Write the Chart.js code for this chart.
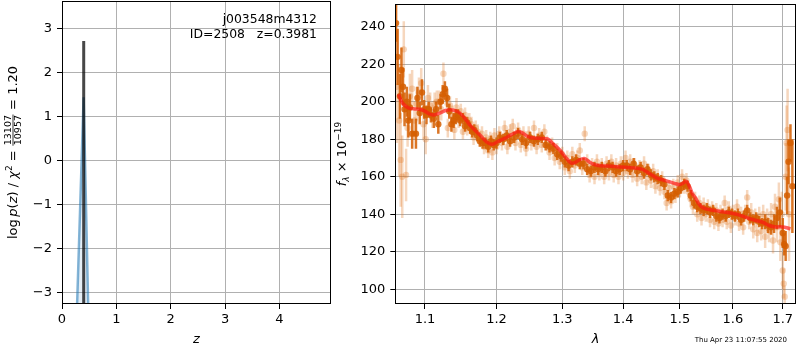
<!DOCTYPE html>
<html><head><meta charset="utf-8">
<script src="https://cdn.jsdelivr.net/npm/chart.js@4.4.1/dist/chart.umd.min.js"></script>
<style>
html,body{margin:0;padding:0;background:#fff;}
body{width:800px;height:350px;position:relative;overflow:hidden;}
#w1{position:absolute;left:0;top:0;width:334px;height:350px;}
#w2{position:absolute;left:328px;top:0;width:472px;height:350px;}
</style></head><body>
<div id="w1"><canvas id="c1"></canvas></div>
<div id="w2"><canvas id="c2"></canvas></div>
<script>
// ---------- left panel data ----------
const zTicks = [0, 1, 2, 3, 4];
const logpTicks = [-3, -2, -1, 0, 1, 2, 3];
const chi2Z = [0.3955, 0.3981, 0.4007];
const chi2LogP = [-6, 2.72, -6];
const pzZ = [0.25, 0.398, 0.50];
const pzLogP = [-4.37, 1.44, -4.34];
const objName = "j003548m4312";
const objInfo = "ID=2508   z=0.3981";

// ---------- right panel data ----------
const lamTicks = [1.1, 1.2, 1.3, 1.4, 1.5, 1.6, 1.7];
const fluxTicks = [100, 120, 140, 160, 180, 200, 220, 240];

const lamModel = [1.065,1.070,1.075,1.080,1.086,1.093,1.100,1.106,1.112,1.120,1.129,1.138,1.146,1.154,1.161,1.170,1.178,1.186,1.194,1.202,1.212,1.222,1.232,1.238,1.244,1.252,1.264,1.277,1.286,1.296,1.305,1.314,1.320,1.326,1.335,1.345,1.352,1.362,1.380,1.397,1.415,1.432,1.444,1.452,1.461,1.470,1.479,1.490,1.499,1.505,1.512,1.518,1.523,1.528,1.534,1.540,1.550,1.559,1.575,1.593,1.610,1.627,1.644,1.660,1.672,1.685,1.693,1.700,1.708,1.716];
const fluxModel = [204,199.5,197.5,196.5,196.2,196.0,195.0,193.5,193.0,194.0,195.5,195.6,194.5,191.5,188.0,184.5,181.5,178.5,177.3,178.8,180.5,182.5,184.2,183.5,182.0,180.8,180.5,180.2,177.5,174.3,170.5,167.3,167.6,168.8,169.8,167.6,166.5,165.9,165.6,165.2,164.8,164.1,162.0,160.5,159.0,158.3,157.5,156.5,155.8,156.5,157.6,154.5,151.0,149.0,146.0,144.0,142.7,142.3,141.5,140.8,139.8,138.2,136.8,135.6,134.0,133.2,133.3,133.2,132.8,132.2];

const lamDark = [1.062,1.064,1.067,1.069,1.071,1.073,1.076,1.078,1.080,1.083,1.088,1.090,1.093,1.096,1.099,1.102,1.105,1.108,1.112,1.115,1.118,1.121,1.124,1.127,1.130,1.133,1.136,1.139,1.142,1.145,1.148,1.152,1.155,1.158,1.162,1.165,1.168,1.172,1.176,1.180,1.184,1.188,1.192,1.196,1.200,1.205,1.210,1.215,1.220,1.226,1.232,1.238,1.244,1.250,1.256,1.262,1.268,1.274,1.280,1.286,1.292,1.298,1.304,1.310,1.316,1.322,1.328,1.334,1.340,1.346,1.352,1.358,1.364,1.370,1.376,1.382,1.388,1.394,1.400,1.406,1.412,1.418,1.424,1.430,1.436,1.442,1.448,1.454,1.460,1.466,1.472,1.478,1.484,1.490,1.496,1.502,1.508,1.514,1.520,1.526,1.532,1.538,1.544,1.550,1.556,1.562,1.568,1.574,1.580,1.586,1.592,1.598,1.604,1.610,1.616,1.622,1.628,1.634,1.640,1.646,1.652,1.658,1.664,1.670,1.676,1.682,1.688,1.694,1.700,1.703,1.706,1.709,1.712,1.716,1.720];
const fluxDark = [242,224,203,217,208,196,200,190,197,183,183,202,194,205,196,193,196,193,191,196,188,200,204,207,202,195,188,190,192,193,190,191,187,189,186,184,185,182,179,178,178,176,179,177,178,181,180,182,179,181,183,180,178,181,179,180,181,177,176,175,172,171,168,166,168,169,167,167,164,163,165,164,165,163,166,165,163,164,166,166,164,167,163,165,162,164,161,160,159,158,156,150,149,151,152,154,156,155,150,146,144,143,142,143,141,142,139,138,140,139,141,140,139,140,137,139,142,138,137,138,136,135,136,134,133,135,138,141,130,124,123,150,168,178,155];
const errDark = [10,15,12,12,10,9,8,9,7,8,8,6,6,7,5,5,4,4,5,4,5,4,5,4,5,4,4,4,4,3,3,3,3,3,3,3,3,3,3,3,3,3,3,3,3,3,3,3,3,3,3,3,3,3,3,3,3,3,3,3,3,3,3,3,3,3,3,3,3,3,3,3,3,3,3,3,3,3,3,3,3,3,3,3,3,3,3,3,3,3,3,3,3,3,3,3,3,3,3,3,3,3,3,3,3,3,3,3,3,3,3,3,3,3,3,3,3,3,3,3,3,3,4,4,4,5,6,8,8,6,8,10,12,10,25];

const lamLight = [1.063,1.066,1.068,1.070,1.072,1.075,1.077,1.080,1.083,1.086,1.089,1.092,1.095,1.098,1.101,1.104,1.107,1.110,1.113,1.116,1.119,1.122,1.125,1.128,1.131,1.134,1.137,1.140,1.143,1.146,1.149,1.152,1.155,1.158,1.161,1.164,1.167,1.170,1.173,1.176,1.179,1.182,1.185,1.188,1.191,1.194,1.197,1.200,1.204,1.208,1.212,1.216,1.220,1.224,1.228,1.232,1.236,1.240,1.244,1.248,1.252,1.256,1.260,1.264,1.268,1.272,1.276,1.280,1.284,1.288,1.292,1.296,1.300,1.304,1.308,1.312,1.316,1.320,1.324,1.328,1.332,1.336,1.340,1.344,1.348,1.352,1.356,1.360,1.364,1.368,1.372,1.376,1.380,1.384,1.388,1.392,1.396,1.400,1.404,1.408,1.412,1.416,1.420,1.424,1.428,1.432,1.436,1.440,1.444,1.448,1.452,1.456,1.460,1.464,1.468,1.472,1.476,1.480,1.484,1.488,1.492,1.496,1.500,1.504,1.508,1.512,1.516,1.520,1.524,1.528,1.532,1.536,1.540,1.544,1.548,1.552,1.556,1.560,1.564,1.568,1.572,1.576,1.580,1.584,1.588,1.592,1.596,1.600,1.604,1.608,1.612,1.616,1.620,1.624,1.628,1.632,1.636,1.640,1.644,1.648,1.652,1.656,1.660,1.664,1.668,1.672,1.676,1.680,1.684,1.688,1.692,1.695,1.698,1.700,1.702,1.704,1.706,1.708,1.710,1.713];
const fluxLight = [208,190,169,160,228,161,186,203,207,190,199,205,210,188,180,202,198,192,199,200,200,196,215,203,186,198,193,185,197,191,195,184,193,186,190,188,181,186,184,180,183,176,181,174,180,173,182,176,183,178,186,176,184,187,178,185,177,183,175,183,178,186,176,182,177,184,178,173,177,170,174,168,172,165,170,163,172,166,170,174,165,183,168,161,166,160,168,162,166,160,167,162,168,161,166,160,167,162,170,163,168,161,166,159,165,160,167,157,163,158,163,155,160,154,159,152,146,154,147,155,150,157,153,160,155,158,152,148,144,148,140,146,138,145,140,144,137,143,136,142,135,141,137,146,136,143,134,141,138,144,135,140,133,141,149,136,141,132,138,130,139,131,140,128,137,131,140,126,144,133,148,125,140,110,103,96,160,178,185,140];
const errLight = [30,30,25,22,15,14,10,12,10,10,9,8,8,8,8,7,7,6,6,6,6,6,6,5,5,5,5,5,5,5,4,4,4,4,4,4,4,4,4,4,4,4,4,4,4,4,4,4,4,4,4,4,4,4,4,4,4,4,4,4,4,4,4,4,4,4,4,4,4,4,4,4,4,4,4,4,4,4,4,4,4,4,4,4,4,4,4,4,4,4,4,4,4,4,4,4,4,4,4,4,4,4,4,4,4,4,4,4,4,4,4,4,4,4,4,4,4,4,4,4,4,4,4,4,4,4,4,4,4,4,4,4,4,4,4,4,4,4,4,4,4,4,4,4,4,4,4,4,4,4,4,4,4,4,4,4,5,5,5,5,5,5,5,6,6,6,6,7,7,8,9,10,12,10,8,6,18,20,22,25];

const timeStamp = "Thu Apr 23 11:07:55 2020";

// ---------- helpers ----------
const FAM = '"DejaVu Sans"';
const fmtMinus = v => (v < 0 ? '\u2212' + Math.abs(v) : String(v));
const pts = (xs, ys) => xs.map((x, i) => ({x: x, y: ys[i]}));

function drawPieces(ctx, pieces, cx, cy, rot) {
  ctx.save();
  ctx.translate(cx, cy);
  ctx.rotate(rot);
  ctx.fillStyle = '#000';
  ctx.textBaseline = 'alphabetic';
  ctx.textAlign = 'left';
  let total = 0;
  pieces.forEach(p => {
    if (p.measure) p.w = p.measure(ctx);
    else { ctx.font = p.font; p.w = ctx.measureText(p.t).width; }
    total += p.w;
  });
  let x = -total / 2;
  pieces.forEach(p => {
    if (p.draw) p.draw(ctx, x);
    else { ctx.font = p.font; ctx.fillText(p.t, x, p.dy || 0); }
    x += p.w;
  });
  ctx.restore();
}

function fraction(num, den, font, axis) {
  let nw = 0, dw = 0;
  return {
    measure(ctx) { ctx.font = font; nw = ctx.measureText(num).width; dw = ctx.measureText(den).width; return Math.max(nw, dw) + 2; },
    draw(ctx, x) {
      const w = Math.max(nw, dw) + 2;
      ctx.font = font;
      ctx.fillText(num, x + (w - nw) / 2, axis - 1.6);
      ctx.fillText(den, x + (w - dw) / 2, axis + 8.2);
      ctx.fillRect(x + 0.5, axis - 0.4, w - 1, 0.8);
    }
  };
}

const extras = {};
const framePlugin = {
  id: 'frame',
  afterDraw(chart) {
    const ctx = chart.ctx, a = chart.chartArea;
    ctx.save();
    ctx.strokeStyle = '#000';
    ctx.lineWidth = 1;
    ctx.strokeRect(Math.round(a.left) + 0.5, Math.round(a.top) + 0.5, Math.round(a.right - a.left) - 1, Math.round(a.bottom - a.top) - 1);
    ctx.restore();
    const fn = extras[chart.canvas.id];
    if (fn) fn(chart);
  }
};

const errPlugin = {
  id: 'errbars',
  beforeDatasetDraw(chart, args) {
    const ds = chart.data.datasets[args.index];
    if (!ds.errs) return;
    const ctx = chart.ctx, a = chart.chartArea, x = chart.scales.x, y = chart.scales.y;
    ctx.save();
    ctx.beginPath();
    ctx.rect(a.left, a.top, a.right - a.left, a.bottom - a.top);
    ctx.clip();
    ctx.strokeStyle = ds.errColor;
    ctx.lineWidth = ds.errWidth;
    ds.data.forEach((p, i) => {
      const px = x.getPixelForValue(p.x);
      ctx.beginPath();
      ctx.moveTo(px, y.getPixelForValue(p.y - ds.errs[i]));
      ctx.lineTo(px, y.getPixelForValue(p.y + ds.errs[i]));
      ctx.stroke();
    });
    ctx.restore();
  }
};

Chart.defaults.font.family = FAM;
Chart.defaults.font.size = 13;
Chart.defaults.color = '#000';

function axisCommon(ticks, fmt, isX, fitSize) {
  return {
    afterBuildTicks: s => { s.ticks = ticks.map(v => ({value: v})); },
    afterFit: s => {
      if (isX) { s.height = fitSize; s.paddingLeft = 0; s.paddingRight = 0; }
      else { s.width = fitSize; s.paddingTop = 0; s.paddingBottom = 0; }
    },
    ticks: {callback: fmt, padding: isX ? 3 : 5, maxRotation: 0, autoSkip: false, font: {size: 13, family: FAM}, color: '#000'},
    grid: {color: '#b0b0b0', lineWidth: 1, tickColor: '#000', tickLength: 5, drawTicks: true},
    border: {display: false}
  };
}

// ---------- left chart ----------
extras.c1 = function (chart) {
  const ctx = chart.ctx, a = chart.chartArea;
  ctx.save();
  ctx.fillStyle = '#000';
  ctx.font = '12.4px ' + FAM;
  ctx.textAlign = 'right';
  ctx.textBaseline = 'middle';
  ctx.fillText(objName, 317, 20);
  ctx.fillText(objInfo, 317, 35);
  ctx.textAlign = 'center';
  ctx.font = 'italic 13px ' + FAM;
  ctx.textBaseline = 'alphabetic';
  ctx.fillText('z', (a.left + a.right) / 2, 343);
  ctx.restore();
  const N = '13px ' + FAM, I = 'italic 13px ' + FAM;
  drawPieces(ctx, [
    {t: 'log', font: N}, {t: '\u2009', font: N}, {t: 'p', font: I}, {t: '(', font: N}, {t: 'z', font: I}, {t: ')', font: N},
    {t: ' / ', font: N}, {t: '\u03c7', font: I}, {t: '2', font: '9px ' + FAM, dy: -5.5},
    {t: ' = ', font: N}, fraction('13107', '10957', '9.5px ' + FAM, -4), {t: ' = 1.20', font: N}
  ], 17, (a.top + a.bottom) / 2, -Math.PI / 2);
};

new Chart(document.getElementById('c1'), {
  type: 'line',
  data: {
    datasets: [
      {data: pts(chi2Z, chi2LogP), borderColor: 'rgba(0,0,0,0.72)', borderWidth: 3, pointRadius: 0, fill: false, tension: 0, order: 0},
      {data: pts(pzZ, pzLogP), borderColor: 'rgba(31,119,180,0.55)', borderWidth: 2.5, pointRadius: 0, fill: 'start', backgroundColor: 'rgba(31,119,180,0.12)', tension: 0, order: 1}
    ]
  },
  options: {
    responsive: true, maintainAspectRatio: false, animation: false, devicePixelRatio: 1,
    layout: {padding: {left: 0, right: 3, top: 1, bottom: 0}},
    scales: {
      x: Object.assign({type: 'linear', min: 0, max: 4.95}, axisCommon(zTicks, v => fmtMinus(v), true, 46)),
      y: Object.assign({type: 'linear', min: -3.27, max: 3.63}, axisCommon(logpTicks, v => fmtMinus(v), false, 62))
    },
    plugins: {legend: {display: false}, tooltip: {enabled: false}}
  },
  plugins: [framePlugin]
});

// ---------- right chart ----------
const darkCol = 'rgba(213,94,0,0.85)';
const lightCol = 'rgba(224,110,20,0.28)';

extras.c2 = function (chart) {
  const ctx = chart.ctx, a = chart.chartArea;
  ctx.save();
  ctx.fillStyle = '#000';
  ctx.font = 'italic 13px ' + FAM;
  ctx.textAlign = 'center';
  ctx.textBaseline = 'alphabetic';
  ctx.fillText('\u03bb', (a.left + a.right) / 2, 343);
  ctx.font = '7px ' + FAM;
  ctx.textAlign = 'right';
  ctx.fillText(timeStamp, 787 - 328, 342);
  ctx.restore();
  const N = '13px ' + FAM, I = 'italic 13px ' + FAM;
  drawPieces(ctx, [
    {t: 'f', font: I}, {t: '\u03bb', font: 'italic 9px ' + FAM, dy: 3}, {t: ' \u00d7 10', font: N}, {t: '\u221219', font: '9px ' + FAM, dy: -5.5}
  ], 18, (a.top + a.bottom) / 2, -Math.PI / 2);
};

new Chart(document.getElementById('c2'), {
  type: 'scatter',
  data: {
    datasets: [
      {type: 'line', data: pts(lamModel, fluxModel), borderColor: 'rgba(255,20,20,0.68)', borderWidth: 3.5, pointRadius: 0, fill: false, tension: 0.3, order: 0},
      {data: pts(lamDark, fluxDark), errs: errDark, errColor: darkCol, errWidth: 2.5, backgroundColor: darkCol, borderWidth: 0, pointRadius: 3.2, order: 1},
      {data: pts(lamLight, fluxLight), errs: errLight, errColor: lightCol, errWidth: 2.5, backgroundColor: lightCol, borderWidth: 0, pointRadius: 3.2, order: 2}
    ]
  },
  options: {
    responsive: true, maintainAspectRatio: false, animation: false, devicePixelRatio: 1,
    layout: {padding: {left: 0, right: 1.7, top: 1, bottom: 0}},
    scales: {
      x: Object.assign({type: 'logarithmic', min: 1.061, max: 1.7276}, axisCommon(lamTicks, v => Number(v).toFixed(1), true, 46)),
      y: Object.assign({type: 'linear', min: 92.1, max: 252.2}, axisCommon(fluxTicks, v => String(v), false, 67.3))
    },
    plugins: {legend: {display: false}, tooltip: {enabled: false}}
  },
  plugins: [framePlugin, errPlugin]
});
</script>
</body></html>
